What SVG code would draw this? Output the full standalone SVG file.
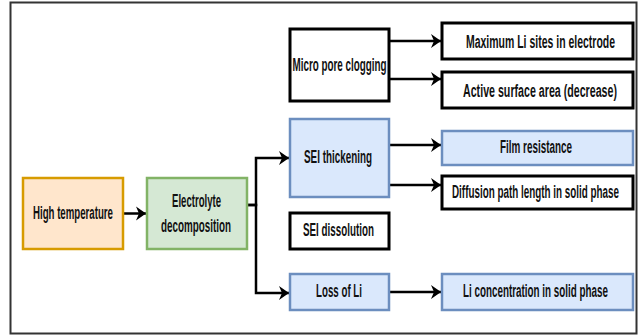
<svg xmlns="http://www.w3.org/2000/svg" width="644" height="335" viewBox="0 0 644 335">
<style>
.t{font-family:"Liberation Sans",Arial,sans-serif;font-size:18px;font-weight:bold;fill:#111;text-anchor:middle}
.blk{fill:#fff;stroke:#000;stroke-width:3}
.blue{fill:#dae8fc;stroke:#6c8ebf;stroke-width:2.5}
.org{fill:#ffe6cc;stroke:#d79b00;stroke-width:2.5}
.grn{fill:#d5e8d4;stroke:#82b366;stroke-width:2.5}
.c{fill:none;stroke:#000;stroke-width:2.5;marker-end:url(#ah)}
</style>
<defs>
<marker id="ah" markerUnits="userSpaceOnUse" viewBox="-11 -8 12 16" refX="0" refY="0" markerWidth="12" markerHeight="16" orient="auto">
<path d="M-10,-7 L0,0 L-10,7 L-7,0 Z" fill="#000"/>
</marker>
</defs>
<rect x="10.5" y="2.5" width="626" height="331" fill="#fff" stroke="#333" stroke-width="2"/>
<g id="connectors">
<path class="c" d="M123,213.5 H146"/>
<path class="c" d="M247,205 H256 V158 H289"/>
<path class="c" d="M247,205 H256 V293 H289"/>
<path class="c" d="M389,41 H441"/>
<path class="c" d="M389,79 H441"/>
<path class="c" d="M389,145 H441"/>
<path class="c" d="M389,185 H441"/>
<path class="c" d="M389,292 H441"/>
</g>
<g id="high-temperature"><rect class="org" x="23" y="178" width="100" height="71"/><text class="t" x="73" y="219" textLength="80" lengthAdjust="spacingAndGlyphs">High temperature</text></g>
<g id="electrolyte-decomposition"><rect class="grn" x="147" y="178" width="100" height="71"/><text class="t" x="196.5" y="207" textLength="49" lengthAdjust="spacingAndGlyphs">Electrolyte</text><text class="t" x="196" y="232" textLength="70" lengthAdjust="spacingAndGlyphs">decomposition</text></g>
<g id="micro-pore-clogging"><rect class="blk" x="290" y="29" width="99" height="72"/><text class="t" x="339.5" y="71" textLength="94" lengthAdjust="spacingAndGlyphs">Micro pore clogging</text></g>
<g id="maximum-li-sites"><rect class="blk" x="442" y="23" width="191" height="36"/><text class="t" x="540.5" y="48" textLength="149" lengthAdjust="spacingAndGlyphs">Maximum Li sites in electrode</text></g>
<g id="active-surface-area"><rect class="blk" x="442" y="72" width="191" height="36"/><text class="t" x="540" y="97" textLength="154" lengthAdjust="spacingAndGlyphs">Active surface area (decrease)</text></g>
<g id="sei-thickening"><rect class="blue" x="290" y="119" width="99" height="78"/><text class="t" x="338" y="163" textLength="68" lengthAdjust="spacingAndGlyphs">SEI thickening</text></g>
<g id="film-resistance"><rect class="blue" x="442" y="131" width="191" height="34"/><text class="t" x="536" y="153" textLength="72" lengthAdjust="spacingAndGlyphs">Film resistance</text></g>
<g id="diffusion-path"><rect class="blk" x="442" y="176" width="191" height="33"/><text class="t" x="535.5" y="198" textLength="167" lengthAdjust="spacingAndGlyphs">Diffusion path length in solid phase</text></g>
<g id="sei-dissolution"><rect class="blk" x="290" y="213" width="99" height="36"/><text class="t" x="338.5" y="236" textLength="71" lengthAdjust="spacingAndGlyphs">SEI dissolution</text></g>
<g id="loss-of-li"><rect class="blue" x="290" y="274" width="99" height="36"/><text class="t" x="339" y="297" textLength="46" lengthAdjust="spacingAndGlyphs">Loss of Li</text></g>
<g id="li-concentration"><rect class="blue" x="442" y="274" width="191" height="36"/><text class="t" x="535.5" y="297" textLength="145" lengthAdjust="spacingAndGlyphs">Li concentration in solid phase</text></g>
</svg>
